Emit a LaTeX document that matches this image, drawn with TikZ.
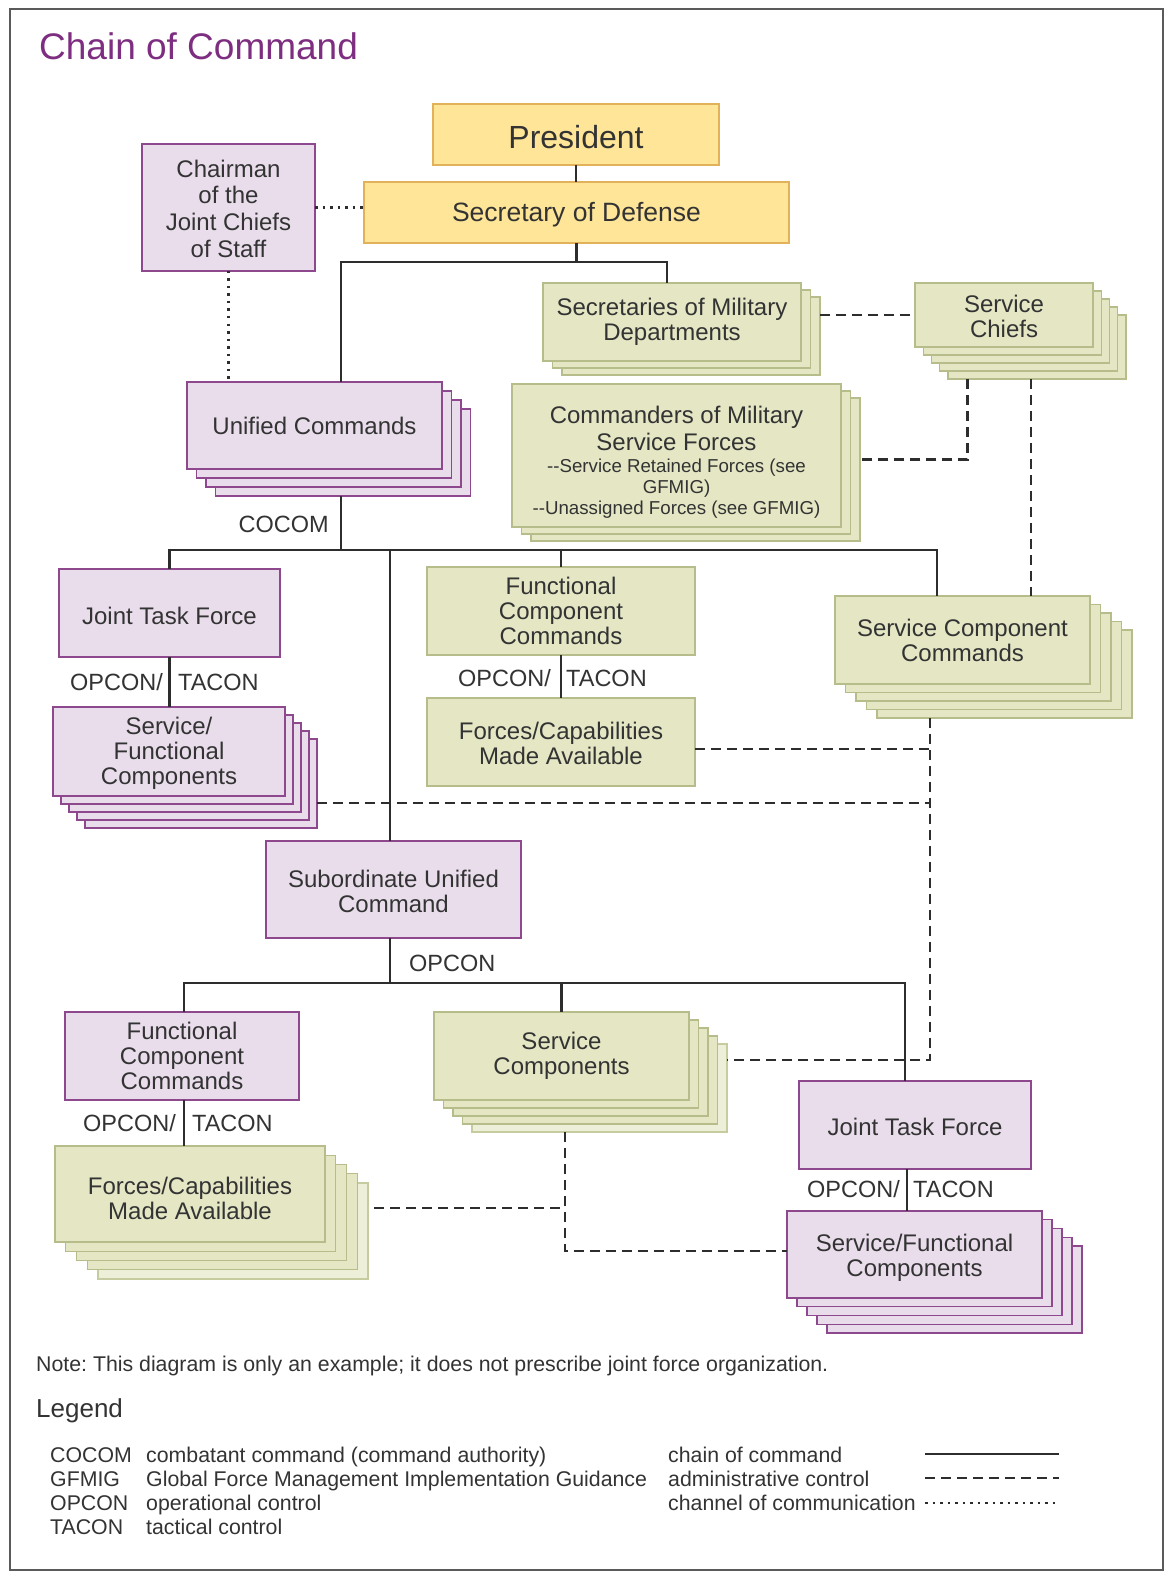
\documentclass[tikz,border=0pt]{standalone}
\usepackage{fontspec}
\setmainfont{Liberation Sans}
\usetikzlibrary{calc}
\definecolor{txt}{RGB}{51,51,51}
\definecolor{ln}{RGB}{45,45,45}
\definecolor{ttl}{RGB}{126,46,128}
\definecolor{pfill}{RGB}{233,221,236}
\definecolor{pdraw}{RGB}{142,72,142}
\definecolor{gfill}{RGB}{228,230,196}
\definecolor{gdraw}{RGB}{182,188,138}
\definecolor{gpfill}{RGB}{237,239,216}
\definecolor{gpdraw}{RGB}{198,203,160}
\definecolor{yfill}{RGB}{254,229,152}
\definecolor{ydraw}{RGB}{226,178,90}
\definecolor{frm}{RGB}{90,90,90}
\tikzset{
  base/.style={draw, line width=1.4pt, inner sep=0pt, outer sep=0pt, text=txt, align=center, font=\fontsize{24}{25}\selectfont},
  pbox/.style={base, draw=pdraw, fill=pfill},
  gbox/.style={base, draw=gdraw, fill=gfill},
  gpale/.style={base, draw=gpdraw, fill=gpfill},
  ybox/.style={base, draw=ydraw, fill=yfill},
  cmd/.style={draw=ln, line width=2.8pt},
  adm/.style={draw=ln, line width=2.8pt, dash pattern=on 10pt off 6pt},
  comm/.style={draw=ln, line width=2.8pt, dash pattern=on 2.5pt off 5pt},
  lbl/.style={text=txt, font=\fontsize{23.5}{24}\selectfont, inner sep=0pt},
  lgd/.style={text=txt, font=\fontsize{21.3}{24}\selectfont\frenchspacing, inner sep=0pt, anchor=base west},
}
% name, style, cx, cy, w, h, layers, dx, dy
\newcommand{\backlayers}[9]{%
  \foreach \k in {#7,...,1}{%
    \node[#2, minimum width=#5pt, minimum height=#6pt] (#1\k) at ({#3+\k*#8},{#4+\k*#9}) {};
  }}
\newcommand{\dn}[1]{\rule{0pt}{#1pt}}
\begin{document}
\begin{tikzpicture}[x=1pt,y=-1pt]
\useasboundingbox (0,0) rectangle (1169,1578);
\fill[white] (0,0) rectangle (1169,1578);
\draw[frm, line width=1.3pt] (10,9) rectangle (1163,1570);

\node[anchor=base west, text=ttl, font=\fontsize{37}{40}\selectfont, inner sep=0pt] (title) at (39,60) {Chain of Command};

% boxes
\node[ybox, minimum width=286pt, minimum height=61pt, font=\fontsize{32}{34}\selectfont] (president) at (576,134.5) {\dn{27.5}President};
\node[ybox, minimum width=425pt, minimum height=61pt, font=\fontsize{26.5}{28}\selectfont] (secdef) at (576.5,212.5) {\dn{23.5}Secretary of Defense};
\node[pbox, minimum width=173pt, minimum height=127pt, font=\fontsize{24}{26.7}\selectfont] (chairman) at (228.5,207.5) {\dn{19.5}Chairman\\of the\\Joint Chiefs\\of Staff};

\backlayers{smd}{gbox}{672}{322}{258}{78}{2}{9.5}{7}
\node[gbox, minimum width=258pt, minimum height=78pt] (smd) at (672,322) {Secretaries of Military\\Departments};

\backlayers{chiefs}{gbox}{1004}{315}{178}{64}{4}{8.2}{8}
\node[gbox, minimum width=178pt, minimum height=64pt] (chiefs) at (1004,315) {\dn{20}Service\\Chiefs};

\backlayers{cmsf}{gbox}{676.5}{455.5}{329}{143}{2}{9.5}{7}
\node[gbox, minimum width=329pt, minimum height=143pt, font=\fontsize{24}{27}\selectfont] (cmsf) at (676.5,455.5) {\dn{31.5}Commanders of Military\\Service Forces\\[-5pt]{\fontsize{18.7}{21}\selectfont -{}-Service Retained Forces (see}\\[-6pt]{\fontsize{18.7}{21}\selectfont GFMIG)}\\[-6pt]{\fontsize{18.7}{21}\selectfont -{}-Unassigned Forces (see GFMIG)}};

\backlayers{unified}{pbox}{314.5}{425.5}{255}{87}{3}{9.5}{9}
\node[pbox, minimum width=255pt, minimum height=87pt] (unified) at (314.5,425.5) {Unified Commands};

\node[pbox, minimum width=221pt, minimum height=88pt] (jtf1) at (169.5,613) {\dn{24}Joint Task Force};

\backlayers{sfc1}{pbox}{169}{751.5}{232}{89}{4}{8}{8}
\node[pbox, minimum width=232pt, minimum height=89pt] (sfc1) at (169,751.5) {\dn{20}Service/\\Functional\\Components};

\node[gbox, minimum width=268pt, minimum height=88pt] (fcc1) at (561,611) {Functional\\Component\\Commands};
\node[gbox, minimum width=268pt, minimum height=88pt] (fca1) at (561,742) {\dn{21}Forces/Capabilities\\Made Available};

\backlayers{scc}{gbox}{962.5}{640}{255}{88}{4}{10.5}{8.5}
\node[gbox, minimum width=255pt, minimum height=88pt] (scc) at (962.5,640) {Service Component\\Commands};

\node[pbox, minimum width=255pt, minimum height=97pt] (suc) at (393.5,889.5) {\dn{21.5}Subordinate Unified\\Command};

\node[pbox, minimum width=234pt, minimum height=88pt] (fcc2) at (182,1056) {Functional\\Component\\Commands};

\node[gpale, minimum width=270pt, minimum height=96pt] (fca24) at ({190+4*10.75},{1194+4*9.25}) {};
\backlayers{fca2}{gbox}{190}{1194}{270}{96}{3}{10.75}{9.25}
\node[gbox, minimum width=270pt, minimum height=96pt] (fca2) at (190,1194) {\dn{26}Forces/Capabilities\\Made Available};

\node[gpale, minimum width=255pt, minimum height=88pt] (sc4) at ({561.5+4*9.5},{1056+4*8}) {};
\backlayers{sc}{gbox}{561.5}{1056}{255}{88}{3}{9.5}{8}
\node[gbox, minimum width=255pt, minimum height=88pt] (sc) at (561.5,1056) {Service\\Components};

\node[pbox, minimum width=232pt, minimum height=88pt] (jtf2) at (915,1125) {\dn{21.5}Joint Task Force};

\backlayers{sfc2}{pbox}{914.5}{1254.5}{255}{87}{4}{10}{8.75}
\node[pbox, minimum width=255pt, minimum height=87pt] (sfc2) at (914.5,1254.5) {\dn{23.5}Service/Functional\\Components};

% bus levels
\coordinate (bus1) at (0,262);
\coordinate (bus2) at (0,550);
\coordinate (bus3) at (0,983);

% chain of command
\draw[cmd] (president.south) -- (president.south |- secdef.north);
\draw[cmd] (secdef.south) -- (secdef.south |- bus1);
\coordinate (ut) at ([xshift=26.5pt]unified.north);
\coordinate (st) at ([xshift=-5pt]smd.north);
\draw[cmd] (ut) -- (ut |- bus1) -- (st |- bus1) -- (st);

\coordinate (ub) at ([xshift=-2pt]unified3.south);
\draw[cmd] (ub) -- (ub |- bus2);
\coordinate (sccT) at ([xshift=-25.5pt]scc.north);
\draw[cmd] (jtf1.north) -- (jtf1.north |- bus2) -- (sccT |- bus2) -- (sccT);
\draw[cmd] (fcc1.north |- bus2) -- (fcc1.north);
\coordinate (sucT) at ([xshift=-3.5pt]suc.north);
\draw[cmd] (sucT |- bus2) -- (sucT);
\draw[cmd] (jtf1.south) -- (jtf1.south |- sfc1.north);
\draw[cmd] (fcc1.south) -- (fca1.north);

\coordinate (sucB) at ([xshift=-3.5pt]suc.south);
\draw[cmd] (sucB) -- (sucB |- bus3);
\coordinate (fT) at ([xshift=2pt]fcc2.north);
\coordinate (jT) at ([xshift=-10pt]jtf2.north);
\draw[cmd] (fT) -- (fT |- bus3) -- (jT |- bus3) -- (jT);
\draw[cmd] (sc.north |- bus3) -- (sc.north);
\coordinate (fB) at ([xshift=2pt]fcc2.south);
\draw[cmd] (fB) -- (fB |- fca2.north);
\coordinate (jB) at ([xshift=-8pt]jtf2.south);
\draw[cmd] (jB) -- (jB |- sfc2.north);

% channel of communication
\draw[comm] (chairman.east) -- (chairman.east -| secdef.west);
\draw[comm] (chairman.south) -- (chairman.south |- unified.north);

% administrative control
\draw[adm] (smd2.east |- chiefs.west) -- (chiefs.west);
\coordinate (ca) at ([xshift=-69pt]chiefs4.south);
\draw[adm] (ca) |- ([yshift=10pt]cmsf2.east);
\coordinate (cb) at ([xshift=-5.8pt]chiefs4.south);
\draw[adm] (cb) -- (cb |- scc.north);

\coordinate (dv) at ([xshift=-74.5pt]scc4.south);
\draw[adm] (dv) |- ([yshift=28pt]sc4.east);
\coordinate (fe) at ([yshift=-7pt]fca1.east);
\draw[adm] (fe) -- (fe -| dv);
\coordinate (se) at ([yshift=-19.5pt]sfc14.east);
\draw[adm] (se) -- (se -| dv);

\coordinate (sv) at ([xshift=-34.5pt]sc4.south);
\draw[adm] (sv) |- ([yshift=3.5pt]sfc2.west);
\coordinate (fe2) at ([xshift=6pt,yshift=23pt]fca24.east);
\draw[adm] (fe2) -- (fe2 -| sv);

% labels
\node[lbl, anchor=base east] (cocom) at (329,532) {COCOM};
\node[lbl, anchor=base east] (op1) at (163,690) {OPCON/};
\node[lbl, anchor=base west] (ta1) at (178,690) {TACON};
\node[lbl, anchor=base east] (op2) at (551,686) {OPCON/};
\node[lbl, anchor=base west] (ta2) at (566,686) {TACON};
\node[lbl, anchor=base west] (op3) at (409,971) {OPCON};
\node[lbl, anchor=base east] (op4) at (176,1131) {OPCON/};
\node[lbl, anchor=base west] (ta4) at (192,1131) {TACON};
\node[lbl, anchor=base east] (op5) at (900,1197) {OPCON/};
\node[lbl, anchor=base west] (ta5) at (913,1197) {TACON};

% note and legend
\node[lgd] (note) at (36,1371) {Note: This diagram is only an example; it does not prescribe joint force organization.};
\node[lgd, font=\fontsize{26}{28}\selectfont] (legend) at (36,1417) {Legend};
\node[lgd] (a1) at (50,1462) {COCOM};
\node[lgd] (a2) at (50,1486) {GFMIG};
\node[lgd] (a3) at (50,1510) {OPCON};
\node[lgd] (a4) at (50,1534) {TACON};
\node[lgd] (d1) at (146,1462) {combatant command (command authority)};
\node[lgd] (d2) at (146,1486) {Global Force Management Implementation Guidance};
\node[lgd] (d3) at (146,1510) {operational control};
\node[lgd] (d4) at (146,1534) {tactical control};
\node[lgd] (r1) at (668,1462) {chain of command};
\node[lgd] (r2) at (668,1486) {administrative control};
\node[lgd] (r3) at (668,1510) {channel of communication};
\coordinate (l1a) at (925,1454); \coordinate (l1b) at (1059,1454);
\coordinate (l2a) at (925,1478); \coordinate (l2b) at (1059,1478);
\coordinate (l3a) at (925,1503); \coordinate (l3b) at (1059,1503);
\draw[cmd] (l1a) -- (l1b);
\draw[adm] (l2a) -- (l2b);
\draw[comm] (l3a) -- (l3b);
\end{tikzpicture}
\end{document}
